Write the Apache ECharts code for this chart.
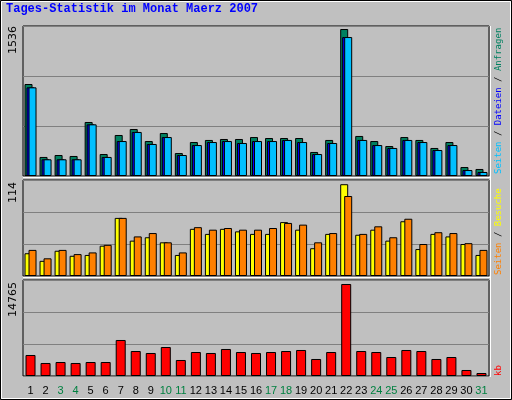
<!DOCTYPE html>
<html><head><meta charset="utf-8">
<script src="https://cdn.jsdelivr.net/npm/echarts@6/dist/echarts.min.js"></script>
<style>html,body{margin:0;padding:0;background:#c0c0c0}#c{width:512px;height:400px}</style>
</head><body><div id="c"></div>
<script>
const days = ['1','2','3','4','5','6','7','8','9','10','11','12','13','14','15','16','17','18','19','20','21','22','23','24','25','26','27','28','29','30','31'];
const weekend = ['3','4','10','11','17','18','24','25','31'];
const hits  = [942,195,215,205,553,225,420,481,358,440,235,348,369,379,379,399,389,389,389,246,369,1505,410,358,307,399,369,287,348,92,72];
const files = [908,171,171,171,529,195,358,451,328,399,215,317,348,358,338,358,358,369,348,225,338,1423,369,317,287,369,348,266,317,61,41];
const pages = [908,171,171,171,529,195,358,451,328,399,215,317,348,358,338,358,358,369,348,225,338,1423,369,317,287,369,348,266,317,61,41];
const visits = [27,18,30,24,25,36,69,42,46,40,25,56,50,56,53,50,50,64,55,33,50,109,49,55,42,65,32,50,47,38,25];
const pages2 = [31,21,31,26,28,37,69,47,51,40,28,58,55,57,55,55,57,63,61,40,51,95,50,59,46,68,38,52,51,39,31];
const kb = [3230,2000,2153,2000,2153,2153,5537,3845,3538,4460,2461,3691,3538,4153,3691,3538,3691,3845,3999,2615,3691,14150,3845,3691,2922,3999,3845,2615,2922,923,461];
const maxTop = 1536, maxMid = 114, maxBot = 14765;

const chart = echarts.init(document.getElementById('c'), null, {renderer:'canvas'});
const L = 23, W = 466;
const grids = [{left:L,width:W,top:26,height:150},{left:L,width:W,top:180,height:96},{left:L,width:W,top:280,height:96}];
function yAx(i,max){return {gridIndex:i,type:'value',min:0,max:max,interval:max/3,axisLabel:{show:false},axisLine:{show:false},axisTick:{show:false},splitLine:{lineStyle:{color:'#808080',width:1}}};}
const lf = 'Liberation Sans';
function xAx(i,lab){return {gridIndex:i,type:'category',data:days,axisLine:{show:false},axisTick:{show:false},
  axisLabel:lab?{show:true,interval:0,margin:9,fontFamily:lf,fontSize:11,formatter:v=>weekend.includes(v)?'{w|'+v+'}':'{n|'+v+'}',rich:{w:{color:'#008040',fontSize:11,fontFamily:lf},n:{color:'#000',fontSize:11,fontFamily:lf}}}:{show:false}};}
const bs = (c)=>({color:c,borderColor:'#000',borderWidth:1});
const mono = 'DejaVu Sans Mono';
function vt(x,y,rich,text,align){return {type:'text',x:x,y:y,rotation:Math.PI/2,style:{text:text,rich:rich,font:'9px '+mono,textAlign:align,textVerticalAlign:'middle'}};}
const legRich = {a:{fill:'#00c0ff',font:'9px '+mono},b:{fill:'#0000ff',font:'9px '+mono},c:{fill:'#008060',font:'9px '+mono},k:{fill:'#000',font:'9px '+mono},y:{fill:'#ffff00',font:'9px '+mono},o:{fill:'#ff8000',font:'9px '+mono},r:{fill:'#ff0000',font:'9px '+mono}};
chart.setOption({
  animation:false,
  backgroundColor:'#c0c0c0',
  grid:grids.map(g=>Object.assign({show:true,borderColor:'#000',borderWidth:1,backgroundColor:'#c0c0c0'},g)),
  xAxis:[xAx(0,false),xAx(1,false),xAx(2,true)],
  yAxis:[yAx(0,maxTop),yAx(1,maxMid),yAx(2,maxBot)],
  series:[
    {type:'bar',xAxisIndex:0,yAxisIndex:0,data:hits,barWidth:8,barGap:'-75%',itemStyle:bs('#008060')},
    {type:'bar',xAxisIndex:0,yAxisIndex:0,data:files,barWidth:8,barGap:'-75%',itemStyle:bs('#0000ff')},
    {type:'bar',xAxisIndex:0,yAxisIndex:0,data:pages,barWidth:8,barGap:'-75%',itemStyle:bs('#00c0ff')},
    {type:'bar',xAxisIndex:1,yAxisIndex:1,data:visits,barWidth:8,barGap:'-50%',itemStyle:bs('#ffff00')},
    {type:'bar',xAxisIndex:1,yAxisIndex:1,data:pages2,barWidth:8,barGap:'-50%',itemStyle:bs('#ff8000')},
    {type:'bar',xAxisIndex:2,yAxisIndex:2,data:kb,barWidth:10,itemStyle:bs('#ff0000')}
  ],
  graphic:[
    {type:'rect',shape:{x:0.5,y:0.5,width:511,height:399},style:{fill:'none',stroke:'#000',lineWidth:1}},
    {type:'rect',shape:{x:1.5,y:1.5,width:509,height:397},style:{fill:'none',stroke:'#ffffff',lineWidth:1}},
    {type:'text',x:6,y:9,style:{text:'Tages-Statistik im Monat Maerz 2007',font:'bold 12px "Liberation Mono"',fill:'#0000ff',textVerticalAlign:'middle'}},
    {type:'line',shape:{x1:L,y1:177.5,x2:L+W+1,y2:177.5},style:{stroke:'#fff',lineWidth:1}},
    {type:'line',shape:{x1:L,y1:277.5,x2:L+W+1,y2:277.5},style:{stroke:'#fff',lineWidth:1}},
    {type:'line',shape:{x1:L+W+1.5,y1:26,x2:L+W+1.5,y2:377},style:{stroke:'#fff',lineWidth:1}},
    {type:'text',x:13,y:26,rotation:Math.PI/2,style:{text:'1536',font:'11px "DejaVu Sans"',fill:'#000',textAlign:'right',textVerticalAlign:'middle'}},
    {type:'text',x:13,y:182,rotation:Math.PI/2,style:{text:'114',font:'11px "DejaVu Sans"',fill:'#000',textAlign:'right',textVerticalAlign:'middle'}},
    {type:'text',x:13,y:282,rotation:Math.PI/2,style:{text:'14765',font:'11px "DejaVu Sans"',fill:'#000',textAlign:'right',textVerticalAlign:'middle'}},
    vt(499,174,legRich,'{a|Seiten}{k| / }{b|Dateien}{k| / }{c|Anfragen}','left'),
    vt(499,275,legRich,'{o|Seiten}{k| / }{y|Besuche}','left'),
    vt(499,376,legRich,'{r|kb}','left')
  ]
});
</script></body></html>
